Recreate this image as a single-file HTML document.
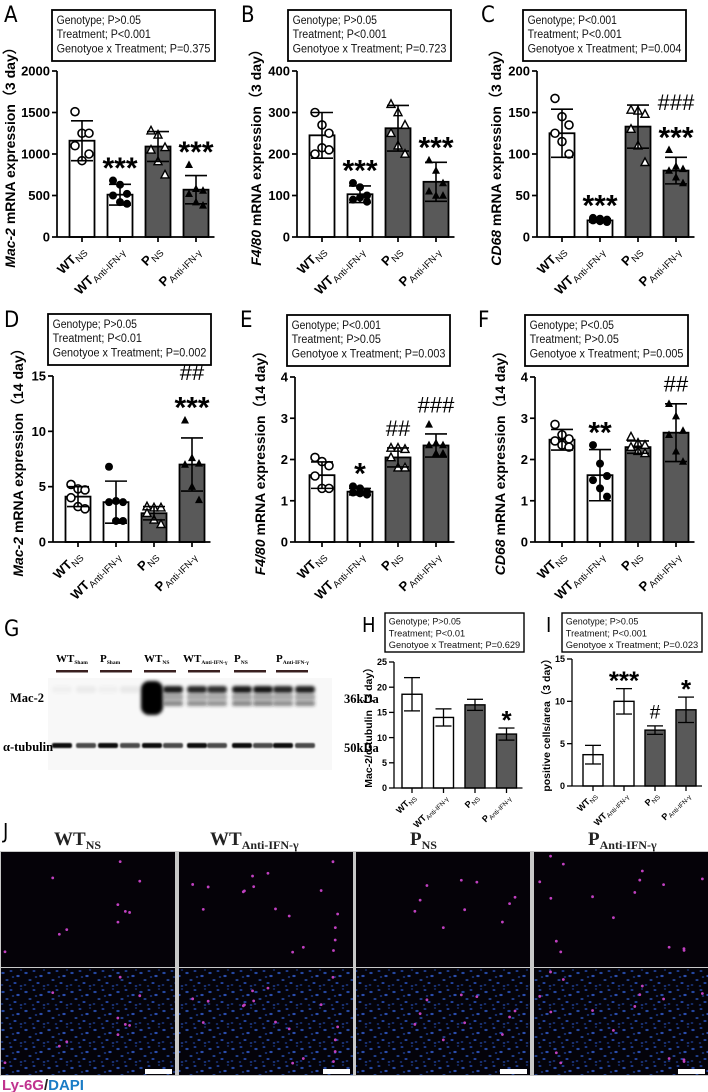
<!DOCTYPE html>
<html><head><meta charset="utf-8"><style>
html,body{margin:0;padding:0;background:#fff;width:708px;height:1092px;overflow:hidden}
svg{display:block;font-family:"Liberation Sans","DejaVu Sans",sans-serif}
</style></head><body>
<svg id="fig" width="708" height="1092" viewBox="0 0 708 1092">
<defs>
<filter id="blur1" x="-50%" y="-50%" width="200%" height="200%"><feGaussianBlur stdDeviation="1.6"/></filter>
<filter id="blur2" x="-50%" y="-50%" width="200%" height="200%"><feGaussianBlur stdDeviation="0.7"/></filter>
<pattern id="dapi" width="23" height="19" patternUnits="userSpaceOnUse">
<rect width="23" height="19" fill="#04030a"/>
<ellipse cx="3" cy="4" rx="1.7" ry="1.1" fill="#2447a0"/><ellipse cx="11" cy="2" rx="1.5" ry="1" fill="#1d3b8e"/>
<ellipse cx="18" cy="7" rx="1.7" ry="1.1" fill="#2a4cac"/><ellipse cx="7" cy="11" rx="1.6" ry="1" fill="#20408f"/>
<ellipse cx="15" cy="14" rx="1.6" ry="1" fill="#2344a0"/><ellipse cx="2" cy="16" rx="1.4" ry="0.9" fill="#1a3680"/>
<ellipse cx="21" cy="17" rx="1.4" ry="0.9" fill="#1f3e92"/><ellipse cx="10" cy="17" rx="1.3" ry="0.9" fill="#183278"/>
<ellipse cx="13" cy="8" rx="1.3" ry="0.9" fill="#1c3a88"/><ellipse cx="21" cy="1" rx="1.2" ry="0.8" fill="#183278"/>
</pattern>
</defs>
<g id="charts"></g>
<g id="blot"></g>
<g id="micro"></g>
</svg>
<script>
// ---- data ----
const groups = ["WT|NS","WT|Anti-IFN-γ","P|NS","P|Anti-IFN-γ"];
const aMeans=[1160,510,1090,570], aErr=[240,125,180,170];
const aPts=[[1510,1250,1250,1100,920,1000],[680,630,520,500,420,400],[1280,1230,1080,1050,910,750],[870,580,560,520,420,380]];
const aSig=["","***","","***"], aHash=["","","",""];
const bMeans=[245,103,262,133], bErr=[55,20,55,47];
const bPts=[[300,270,250,200,215,210],[130,120,100,90,95,85],[320,300,270,250,220,200],[185,160,130,110,100,100]];
const bSig=["","***","","***"], bHash=["","","",""];
const cMeans=[125,20,133,80], cErr=[29,2,26,16];
const cPts=[[167,145,135,125,115,100],[23,22,21,20,19,18],[153,152,148,130,110,90],[105,85,82,80,72,65]];
const cSig=["","***","","***"], cHash=["","","","###"];
const dMeans=[4.1,3.6,2.6,7.0], dErr=[0.9,1.9,0.6,2.4];
const dPts=[[5.2,4.8,4.7,4.0,3.2,3.0],[6.8,3.7,3.6,3.6,1.9,1.9],[3.2,3.1,3.1,2.6,2.0,1.6],[11.0,7.6,7.1,7.0,5.0,3.8]];
const dSig=["","","","***"], dHash=["","","","##"];
const eMeans=[1.62,1.22,2.05,2.34], eErr=[0.32,0.08,0.23,0.28];
const ePts=[[2.05,1.95,1.85,1.6,1.3,1.3],[1.35,1.3,1.22,1.2,1.18,1.15],[2.28,2.28,2.25,2.05,1.8,1.8],[2.85,2.4,2.35,2.35,2.15,2.15]];
const eSig=["","*","",""], eHash=["","","##","###"];
const fMeans=[2.48,1.62,2.3,2.65], fErr=[0.25,0.62,0.15,0.7];
const fPts=[[2.85,2.6,2.5,2.45,2.35,2.3],[2.35,1.9,1.6,1.5,1.3,1.1],[2.55,2.4,2.35,2.3,2.2,2.15],[3.35,3.05,2.7,2.6,2.2,1.95]];
const fSig=["","**","",""], fHash=["","","","##"];
const hMeans=[18.6,14.0,16.5,10.7], hErr=[3.3,1.7,1.1,1.2];
const hSig=["","","","*"], hHash=["","","",""];
const iMeans=[3.7,10.0,6.6,9.0], iErr=[1.1,1.5,0.5,1.5];
const iSig=["","***","","*"], iHash=["","","#",""];
// ---- drawing ----
const NS="http://www.w3.org/2000/svg";
const root=document.getElementById('charts');
function mk(tag,attrs,parent){const e=document.createElementNS(NS,tag);for(const k in attrs)e.setAttribute(k,attrs[k]);(parent||root).appendChild(e);return e;}
const fills=["#fff","#fff","#595959","#595959"];
function marker(g,i,x,y,r){
  let e;
  if(i===0) e=mk('circle',{cx:x,cy:y,r:r,fill:'#fff',stroke:'#000','stroke-width':1.6},g);
  else if(i===1) e=mk('circle',{cx:x,cy:y,r:r,fill:'#000'},g);
  else if(i===2) e=mk('polygon',{points:`${x},${y-r*1.1} ${x+r},${y+r*0.8} ${x-r},${y+r*0.8}`,fill:'#fff',stroke:'#000','stroke-width':1.4},g);
  else e=mk('polygon',{points:`${x},${y-r*1.1} ${x+r},${y+r*0.8} ${x-r},${y+r*0.8}`,fill:'#000'},g);
  
  
}
function panel(c){
  const g=mk('g',{});
  
  
  const yS=v=>c.y0-(v/c.max)*(c.y0-c.yTop);
  const xC=i=>c.ax+c.off+i*c.sp;
  const L=mk('text',{x:c.lx,y:c.ly,'font-size':c.lfs,'font-family':'"DejaVu Sans Condensed","DejaVu Sans",sans-serif',fill:'#000'},g);L.textContent=c.letter;
  
  const bg=mk('g',{},g);
  mk('rect',{x:c.bx,y:c.by,width:c.bw,height:c.bh,fill:'#fff',stroke:'#000','stroke-width':c.small?1.4:1.8},bg);
  c.box.forEach((t,k)=>{
    const e=mk('text',{x:c.bx+c.bfs*0.4,y:c.by+c.bfs*1.2+k*c.bfs*1.25,'font-size':c.bfs,fill:'#111'},bg);
    e.textContent=t;
    const full=c.bw-c.bfs*0.8;
    e.setAttribute('textLength',k===2?full:full*t.length/31);
    e.setAttribute('lengthAdjust','spacingAndGlyphs');
  });
  const n=c.means.length;
  for(let i=0;i<n;i++){
    const x=xC(i),y=yS(c.means[i]);
    const r=mk('rect',{x:x-c.bwid/2,y:y,width:c.bwid,height:c.y0-y,fill:fills[i],stroke:'#000','stroke-width':c.small?1.4:1.8},g);
    
    
  }
  if(c.pts){
    c.pts.forEach((arr,i)=>{
      const x=xC(i);
      const offs=[-7,0,7,-7,0,7];
      arr.forEach((v,k)=>marker(g,i,x+offs[k],yS(v),4));
    });
  }
  for(let i=0;i<n;i++){
    const x=xC(i),yt=yS(c.means[i]+c.errs[i]),yb=yS(Math.max(0,c.means[i]-c.errs[i]));
    const eg=mk('g',{stroke:'#000','stroke-width':c.small?1.3:1.6},g);
    
    mk('line',{x1:x,y1:yt,x2:x,y2:yb},eg);
    mk('line',{x1:x-c.cap,y1:yt,x2:x+c.cap,y2:yt},eg);
    mk('line',{x1:x-c.cap,y1:yb,x2:x+c.cap,y2:yb},eg);
    let top=yt;
    if(c.pts){c.pts[i].forEach(v=>{top=Math.min(top,yS(v)-4);});}
    let cy=top-c.gap; // center of star row
    if(c.sig[i]){const s=mk('text',{x:x,y:cy+c.sfs*0.58,'font-size':c.sfs,'font-weight':'bold','text-anchor':'middle'},g);s.textContent=c.sig[i];
      cy-=c.hgap;}
    if(c.hash[i]){const h=mk('text',{x:x,y:cy+c.hfs*0.36,'font-size':c.hfs,'text-anchor':'middle'},g);h.textContent=c.hash[i];
      }
  }
  const ag=mk('g',{stroke:'#000','stroke-width':c.small?1.3:1.7},g);
  
  mk('line',{x1:c.ax,y1:c.yTop,x2:c.ax,y2:c.y0},ag);
  mk('line',{x1:c.ax,y1:c.y0,x2:xC(n-1)+c.bwid/2+6,y2:c.y0},ag);
  for(let v=0;v<=c.max+1e-9;v+=c.step){
    const y=yS(v);mk('line',{x1:c.ax-5,y1:y,x2:c.ax,y2:y},ag);
    const t=mk('text',{x:c.ax-7,y:y+c.tfs*0.35,'font-size':c.tfs,'font-weight':'bold','text-anchor':'end'},g);t.textContent=v;
    
  }
  for(let i=0;i<n;i++){mk('line',{x1:xC(i),y1:c.y0,x2:xC(i),y2:c.y0+5},ag);
    const [a,b]=groups[i].split('|');
    const tx=xC(i)+4,ty=c.y0+c.tfs*1.1;
    const t=mk('text',{x:tx,y:ty,'font-size':c.tfs,'font-weight':'bold','text-anchor':'end',transform:`rotate(-45 ${tx} ${ty})`},g);
    
    const s1=mk('tspan',{},t);s1.textContent=a;
    const s2=mk('tspan',{'font-size':c.tfs*0.72,'font-weight':'normal',dy:c.tfs*0.25},t);s2.textContent=b;
  }
  const yc=(c.y0+c.yTop)/2,xt=c.ax-c.ytOff;
  const yt=mk('text',{x:xt,y:yc,'font-size':c.yfs,'font-weight':'bold','text-anchor':'middle',transform:`rotate(-90 ${xt} ${yc})`},g);
  
  if(c.ital){const s=mk('tspan',{'font-style':'italic'},yt);s.textContent=c.ital;}
  const s2=mk('tspan',{},yt);s2.textContent=c.ytitle;
}
const big={off:25,sp:38,bwid:25,cap:11,tfs:13,sfs:30,hfs:22,gap:16,hgap:28,bfs:11.5,bh:51,bw:163,lfs:22,yfs:14,ytOff:40};
function box(g,t,i){return ["Genotype;  "+g,"Treatment;  "+t,"Genotyoe x Treatment; "+i];}
panel(Object.assign({},big,{letter:'A',lx:4,ly:22,ax:57,y0:237,yTop:71,max:2000,step:500,means:aMeans,errs:aErr,pts:aPts,sig:aSig,hash:aHash,bx:52,by:10,box:box("P>0.05","P<0.001","P=0.375"),ital:'Mac-2',ytitle:' mRNA expression（3 day）',ytOff:42}));
panel(Object.assign({},big,{letter:'B',lx:241,ly:22,ax:297,y0:237,yTop:71,max:400,step:100,means:bMeans,errs:bErr,pts:bPts,sig:bSig,hash:bHash,bx:288,by:10,box:box("P>0.05","P<0.001","P=0.723"),ital:'F4/80',ytitle:' mRNA expression（3 day）',ytOff:36}));
panel(Object.assign({},big,{letter:'C',lx:481,ly:22,ax:537,y0:237,yTop:71,max:200,step:50,means:cMeans,errs:cErr,pts:cPts,sig:cSig,hash:cHash,bx:523,by:10,box:box("P<0.001","P<0.001","P=0.004"),ital:'CD68',ytitle:' mRNA expression（3 day）',ytOff:36}));
panel(Object.assign({},big,{letter:'D',lx:4,ly:327,off:25,ax:53,y0:542,yTop:376,max:15,step:5,means:dMeans,errs:dErr,pts:dPts,sig:dSig,hash:dHash,bx:48,by:314,box:box("P>0.05","P<0.01","P=0.002"),ital:'Mac-2',ytitle:' mRNA expression（14 day）',ytOff:30}));
panel(Object.assign({},big,{letter:'E',lx:240,ly:327,off:27,ax:295,y0:542,yTop:377,max:4,step:1,means:eMeans,errs:eErr,pts:ePts,sig:eSig,hash:eHash,bx:287,by:315,box:box("P<0.001","P>0.05","P=0.003"),ital:'F4/80',ytitle:' mRNA expression（14 day）',ytOff:30}));
panel(Object.assign({},big,{letter:'F',lx:478,ly:327,off:27,ax:535,y0:542,yTop:377,max:4,step:1,means:fMeans,errs:fErr,pts:fPts,sig:fSig,hash:fHash,bx:525,by:315,box:box("P<0.05","P>0.05","P=0.005"),ital:'CD68',ytitle:' mRNA expression（14 day）',ytOff:30}));
const sm={small:true,sp:31.5,bwid:20,cap:8,tfs:9,sfs:26,hfs:19,gap:14,hgap:22,bfs:9.5,bh:39,lfs:20,yfs:10.5};
panel(Object.assign({},sm,{letter:'H',lx:362,ly:632,off:18,ax:394,y0:788,yTop:662,max:25,step:5,means:hMeans,errs:hErr,sig:hSig,hash:hHash,bx:385,by:613,bw:139,box:box("P>0.05","P<0.01","P=0.629"),ytitle:'Mac-2/α-tubulin（3 day）',ytOff:22}));
panel(Object.assign({},sm,{letter:'I',lx:546,ly:632,off:21,sp:31,ax:572,y0:786,yTop:659,max:15,step:5,means:iMeans,errs:iErr,sig:iSig,hash:iHash,bx:562,by:613,bw:140,box:box("P>0.05","P<0.001","P=0.023"),ytitle:'positive cells/area（3 day）',ytOff:22}));

// ---- western blot ----
const blot=document.getElementById('blot');
function bm(tag,a,p){return mk(tag,a,p||blot);}
const G=bm('text',{x:4,y:636,'font-size':22,'font-family':'"DejaVu Sans Condensed","DejaVu Sans",sans-serif'});G.textContent='G';
bm('rect',{x:48,y:678,width:284,height:92,fill:'#f8f8f8'});
const lanes=[62,86,108,130,152,173,197,217,242,263,283,305];
const macI=[0.03,0.05,0.03,0.06,1,0.9,0.85,0.82,0.9,0.92,0.85,0.88];
lanes.forEach((x,i)=>{
  const a=macI[i];
  const b=bm('g',{filter:'url(#blur1)'});
  
  
  bm('rect',{x:x-10,y:686,width:20,height:7,rx:3,fill:'#000','fill-opacity':a},b);
  if(a>0.3){bm('rect',{x:x-10,y:694,width:20,height:6,fill:'#333','fill-opacity':a*0.5},b);
    bm('rect',{x:x-10,y:701,width:20,height:5,rx:2,fill:'#222','fill-opacity':a*0.6},b);}
  if(i===4){bm('rect',{x:x-11,y:681,width:22,height:34,rx:8,fill:'#000'},b);}
  const t=bm('rect',{x:x-10,y:743,width:20,height:5,rx:2,fill:'#000','fill-opacity':(i%2?0.7:0.95),filter:'url(#blur2)'});
  
  
});
const lg=[["WT","Sham",56,72],["P","Sham",100,116],["WT","NS",144,160],["WT","Anti-IFN-γ",183,204],["P","NS",234,250],["P","Anti-IFN-γ",276,292]];
lg.forEach(([a,b,x,ux])=>{
  const t=bm('text',{x:x,y:662,'font-size':11,'font-weight':'bold','font-family':'"Liberation Serif",serif'});
  
  
  const s1=bm('tspan',{},t);s1.textContent=a;
  const s2=bm('tspan',{'font-size':5.5,dy:2},t);s2.textContent=b;
  bm('rect',{x:ux-16,y:670,width:32,height:2.5,fill:'#3a2020'});
});
[["Mac-2",10,702],["α-tubulin",3,751],["36kDa",344,703],["50kDa",344,752]].forEach(([s,x,y])=>{
  const t=bm('text',{x:x,y:y,'font-size':12.5,'font-weight':'bold','font-family':'"Liberation Serif",serif'});t.textContent=s;
  
  
});

// ---- microscopy J ----
const mi=document.getElementById('micro');
const J=mk('text',{x:3,y:838,'font-size':20,'font-family':'"DejaVu Sans Condensed","DejaVu Sans",sans-serif'},mi);J.textContent='J';
const titles=[["WT","NS",54],["WT","Anti-IFN-γ",210],["P","NS",410],["P","Anti-IFN-γ",588]];
const px=[0,178,355,533];
mk('rect',{x:0,y:851,width:708,height:225,fill:'#c8c8c8'},mi);
let seed=7;
function rnd(){seed=(seed*16807)%2147483647;return seed/2147483647;}
px.forEach((x,i)=>{
  const t=mk('text',{x:titles[i][2],y:845,'font-size':19,'font-weight':'bold','font-family':'"Liberation Serif",serif',fill:'#222'},mi);
  
  
  const a=mk('tspan',{},t);a.textContent=titles[i][0];
  const b=mk('tspan',{'font-size':12,dy:4},t);b.textContent=titles[i][1];
  const top=mk('rect',{x:x+1,y:852,width:174,height:115,fill:'#050208'},mi);
  
  
  const bot=mk('rect',{x:x+1,y:968,width:174,height:107,fill:'url(#dapi)'},mi);
  
  
  const cnt=[10,18,10,16][i];
  for(let k=0;k<cnt;k++){
    const dx=x+5+rnd()*165,dy=4+rnd()*104;
    mk('circle',{cx:dx,cy:852+dy,r:1.4,fill:'#c040c0'},mi);
    mk('circle',{cx:dx,cy:968+dy*0.95,r:1.4,fill:'#c040c0'},mi);
  }
  const sb=mk('rect',{x:x+145,y:1069,width:27,height:5,fill:'#fff'},mi);
  
  
});
const lt=mk('text',{x:2,y:1090,'font-size':15,'font-weight':'bold'},mi);


const l1=mk('tspan',{fill:'#c0338f'},lt);l1.textContent='Ly-6G';
const l2=mk('tspan',{fill:'#222'},lt);l2.textContent='/';
const l3=mk('tspan',{fill:'#1a7cc6'},lt);l3.textContent='DAPI';
</script>
</body></html>
